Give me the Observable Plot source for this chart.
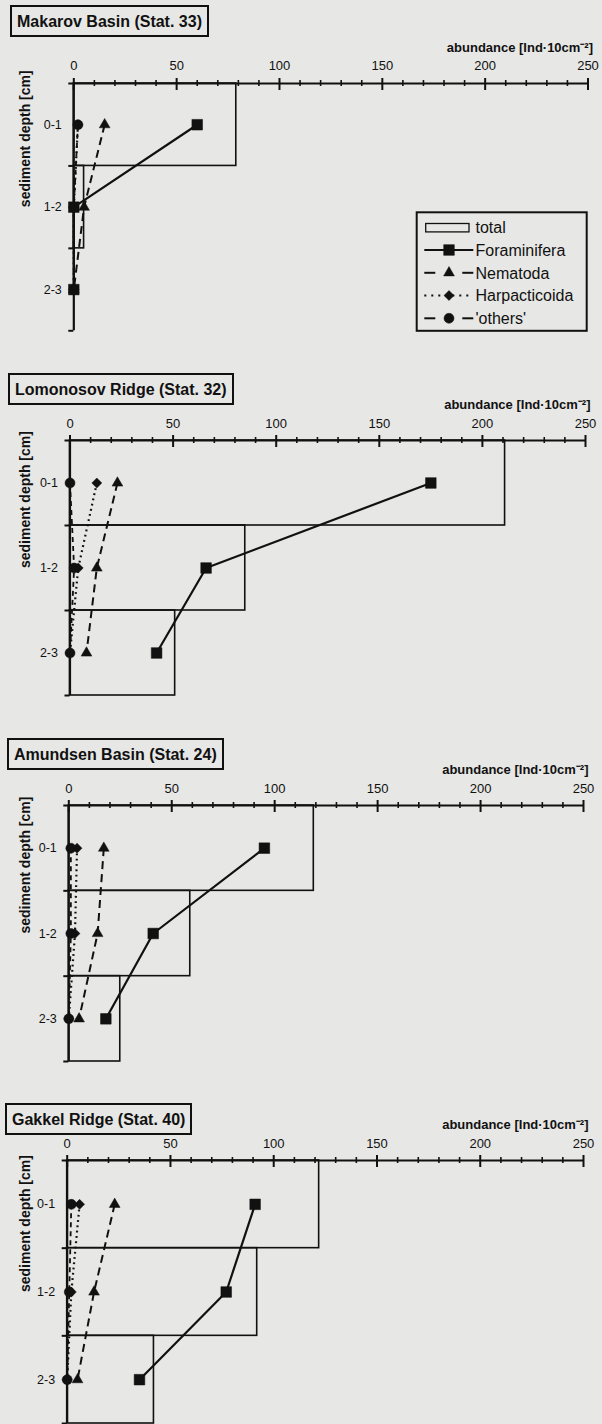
<!DOCTYPE html>
<html><head><meta charset="utf-8">
<script src="https://cdn.jsdelivr.net/npm/d3@7"></script>
<script src="https://cdn.jsdelivr.net/npm/@observablehq/plot@0.6"></script>
<style>
html,body{margin:0;padding:0;overflow:hidden;background:#e7e7e5;}
#page{position:relative;width:602px;height:1424px;overflow:hidden;background:#e7e7e5;font-family:"Liberation Sans",Arial,sans-serif;color:#111;}
.panel{position:absolute;left:0;}
.title{position:absolute;border:2px solid #111;padding:5px 5px 4px 5px;font-weight:bold;font-size:16px;line-height:19px;white-space:nowrap;color:#111;}
.legend{position:absolute;left:0;top:0;}
</style></head><body><div id="page"></div>
<script>
// ---- data ----
const stations = ["Makarov Basin (Stat. 33)", "Lomonosov Ridge (Stat. 32)", "Amundsen Basin (Stat. 24)", "Gakkel Ridge (Stat. 40)"];
const depthLabels = ["0-1", "1-2", "2-3"];
const xTicks = [0, 50, 100, 150, 200, 250];
const minorTicks = [10, 20, 30, 40, 60, 70, 80, 90, 110, 120, 130, 140, 160, 170, 180, 190, 210, 220, 230, 240];
const depthTicks = [0, 1, 2, 3];
const taxa = ["Foraminifera", "Nematoda", "Harpacticoida", "'others'"];
// per station, per depth layer (0-1, 1-2, 2-3)
const total         = [[79, 5, 0], [211, 85, 51], [119, 59, 25], [122, 92, 42]];
const foraminifera  = [[60, 0, 0], [175, 66, 42], [95, 41, 18], [91, 77, 35]];
const nematoda      = [[15, 5, 0], [23, 13, 8], [17, 14, 5], [23, 13, 5]];
const harpacticoida = [[2, 0, 0], [13, 4, 0], [4, 3, 0], [6, 2, 0]];
const others        = [[2, 0, 0], [0, 2, 0], [1, 1, 0], [2, 1, 0]];
const xLabel = "abundance [Ind·10cm⁻²]";
const yLabel = "sediment depth [cm]";

// ---- layout (page pixels) ----
const layout = [
  {axisY: 82.7, bottomY: 330, x0: 73.3, x250: 587.5, tLeft: 10, tTop: 5},
  {axisY: 440, bottomY: 695, x0: 69.5, x250: 585, tLeft: 8, tTop: 373},
  {axisY: 805, bottomY: 1061, x0: 68.3, x250: 583, tLeft: 7, tTop: 738},
  {axisY: 1160, bottomY: 1423, x0: 66.7, x250: 583, tLeft: 5, tTop: 1103}
];
const ink = "#111";
const seriesList = [foraminifera, nematoda, harpacticoida, others];
const sty = {
  "Foraminifera": {dash: null, w: 2.2, symbol: "square", r: 6},
  "Nematoda": {dash: "8,5", w: 2, symbol: "triangle", r: 4},
  "Harpacticoida": {dash: "1.8,3.5", w: 2.2, symbol: "diamond2", r: 4.5},
  "'others'": {dash: "5,4", w: 1.8, symbol: "circle", r: 5}
};
const drawOrder = ["Harpacticoida", "'others'", "Nematoda", "Foraminifera"];

const page = document.getElementById("page");

stations.forEach((name, p) => {
  const L = layout[p];
  const mt = 52, mb = 8;
  const h = mt + (L.bottomY - L.axisY) + mb;
  const boxes = depthLabels.map((lab, i) => ({top: depthTicks[i], bottom: depthTicks[i + 1], total: total[p][i]}));
  const pts = [];
  taxa.forEach((t, k) => seriesList[k][p].forEach((v, i) => pts.push({taxon: t, depth: (depthTicks[i] + depthTicks[i + 1]) / 2, value: v})));
  const lineMarks = drawOrder.map(t => Plot.line(pts.filter(d => d.taxon === t), {
    x: "value", y: "depth", stroke: ink, strokeWidth: sty[t].w, strokeDasharray: sty[t].dash, strokeLinecap: "butt"
  }));
  const dotMarks = drawOrder.map(t => Plot.dot(pts.filter(d => d.taxon === t), {
    x: "value", y: "depth", symbol: sty[t].symbol, r: sty[t].r, fill: ink, stroke: ink, strokeWidth: 0.5
  }));
  const depthMid = depthLabels.map((l, i) => (depthTicks[i] + depthTicks[i + 1]) / 2);

  const chart = Plot.plot({
    width: 602,
    height: h,
    marginTop: mt,
    marginBottom: mb,
    marginLeft: L.x0,
    marginRight: 602 - L.x250,
    style: {fontFamily: '"Liberation Sans", Arial, sans-serif', background: "transparent", color: ink, overflow: "visible"},
    x: {domain: [0, 250], label: null},
    y: {domain: [0, 3], reverse: true, label: null},
    marks: [
      Plot.rect(boxes, {x1: 0, x2: "total", y1: "top", y2: "bottom", fill: "none", stroke: ink, strokeWidth: 1.6}),
      Plot.ruleY([0], {stroke: ink, strokeWidth: 2.2}),
      Plot.ruleX([0], {y1: 0, y2: 3, stroke: ink, strokeWidth: 2.2}),
      Plot.axisX(xTicks, {anchor: "top", tickSize: 6, tickPadding: 7, fontSize: 13, label: null, strokeWidth: 2}),
      Plot.axisX(xTicks, {anchor: "top", tickSize: 6, dy: 6, tickFormat: () => "", label: null, strokeWidth: 2}),
      Plot.axisX(minorTicks, {anchor: "top", tickSize: 4, tickFormat: () => "", label: null, strokeWidth: 1.6}),
      Plot.axisX(minorTicks, {anchor: "top", tickSize: 2, dy: 2, tickFormat: () => "", label: null, strokeWidth: 1.6}),
      Plot.axisY(depthTicks, {anchor: "left", tickSize: 5, tickFormat: () => "", label: null, strokeWidth: 2}),
      Plot.axisY(depthMid, {anchor: "left", tickSize: 0, tickPadding: 12, fontSize: 12.5, label: null,
        tickFormat: d => depthLabels[depthMid.indexOf(d)]}),
      ...lineMarks,
      ...dotMarks,
      Plot.text([yLabel], {frameAnchor: "left", dx: 25 - L.x0, rotate: -90, fontSize: 14, fontWeight: "bold", fill: ink}),
      Plot.text([xLabel], {frameAnchor: "top-right", dx: 5, dy: -41, textAnchor: "end", fontSize: 13, fontWeight: "bold", fill: ink})
    ]
  });
  const wrap = document.createElement("div");
  wrap.className = "panel";
  wrap.style.top = (L.axisY - mt) + "px";
  wrap.appendChild(chart);
  page.appendChild(wrap);

  const title = document.createElement("div");
  title.className = "title";
  title.style.left = L.tLeft + "px";
  title.style.top = L.tTop + "px";
  title.textContent = name;
  page.appendChild(title);
});

// ---- legend (first panel) ----
const lg = d3.select(page).append("svg").attr("class", "legend").attr("width", 602).attr("height", 360)
  .style("position", "absolute").style("left", "0px").style("top", "0px");
lg.append("rect").attr("x", 416.7).attr("y", 212.3).attr("width", 170).attr("height", 118.5)
  .attr("fill", "none").attr("stroke", ink).attr("stroke-width", 2);
const rows = [227.7, 250, 272.8, 295.5, 318.3];
const legendNames = ["total", ...taxa];
const lx1 = 424.3, lx2 = 473.3, lm = 449;
const symMap = {square: d3.symbolSquare, triangle: d3.symbolTriangle, diamond2: d3.symbolDiamond2, circle: d3.symbolCircle};
legendNames.forEach((n, i) => {
  const y = rows[i];
  lg.append("text").attr("x", 475.5).attr("y", y).attr("dy", "0.36em").attr("font-size", 16)
    .attr("font-family", '"Liberation Sans", Arial, sans-serif').attr("fill", ink).text(n);
  if (n === "total") {
    lg.append("rect").attr("x", 425.7).attr("y", y - 4.2).attr("width", 43.3).attr("height", 8.4)
      .attr("fill", "none").attr("stroke", ink).attr("stroke-width", 1.3);
    return;
  }
  const s = sty[n];
  if (n === "Foraminifera") {
    lg.append("line").attr("x1", lx1).attr("x2", lx2).attr("y1", y).attr("y2", y).attr("stroke", ink).attr("stroke-width", 2);
  } else if (n === "Harpacticoida") {
    lg.append("line").attr("x1", lx1).attr("x2", lx2).attr("y1", y).attr("y2", y).attr("stroke", ink)
      .attr("stroke-width", 2).attr("stroke-dasharray", "2,5");
  } else {
    lg.append("line").attr("x1", lx1).attr("x2", lx1 + 11).attr("y1", y).attr("y2", y).attr("stroke", ink).attr("stroke-width", 2);
    lg.append("line").attr("x1", lx2 - 11).attr("x2", lx2).attr("y1", y).attr("y2", y).attr("stroke", ink).attr("stroke-width", 2);
  }
  lg.append("path").attr("transform", `translate(${lm},${y})`)
    .attr("d", d3.symbol(symMap[s.symbol], Math.PI * s.r * s.r)())
    .attr("fill", ink).attr("stroke", ink).attr("stroke-width", 0.5);
});
</script>
</body></html>
